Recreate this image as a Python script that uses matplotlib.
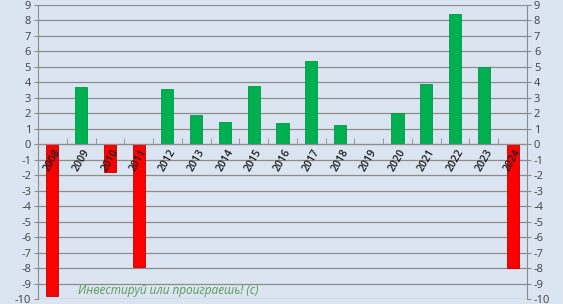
import matplotlib.pyplot as plt
import numpy as np

# Данные: годы и значения
years = ['2008', '2009', '2010', '2011', '2012', '2013', '2014', '2015', '2016',
         '2017', '2018', '2019', '2020', '2021', '2022', '2023', '2024']
values = [-9.8, 3.7, -1.8, -7.9, 3.55, 1.9, 1.45, 3.75, 1.4,
          5.4, 1.25, 0.0, 2.0, 3.9, 8.4, 5.0, -8.0]
yticks = list(range(-10, 10))

plt.rcParams['font.family'] = ['Open Sans', 'DejaVu Sans']

fig = plt.figure(figsize=(5.63, 3.04), dpi=100)
fig.patch.set_facecolor('#dbe5f1')
ax = fig.add_axes([0.0675, 0.0164, 0.8685, 0.9672])
ax.set_facecolor('#dbe5f1')

# сетка вручную, чтобы подписи оси X были поверх столбиков
for t in yticks:
    ax.axhline(t, color='#8c8c8c', linewidth=0.9, zorder=0.5)

x = np.arange(len(years))
colors = ['#00b050' if v >= 0 else '#ff0000' for v in values]
edges = ['#009a44' if v >= 0 else '#c00000' for v in values]
ax.bar(x, values, width=0.42, color=colors, edgecolor=edges, linewidth=0.6, zorder=1)

ax.set_xlim(-0.5, len(years) - 0.5)
ax.set_ylim(-10, 9)
ax.set_yticks(yticks)
ax.set_yticklabels([str(t) for t in yticks], fontsize=8, color='#404040')
ax.tick_params(axis='y', which='both', left=True, right=True, labelleft=True,
               labelright=True, length=3, color='#8c8c8c', pad=2)

# ось X проходит через ноль
ax.spines['bottom'].set_position(('data', 0))
ax.spines['bottom'].set_color('#8c8c8c')
ax.spines['top'].set_visible(False)
ax.spines['left'].set_color('#8c8c8c')
ax.spines['right'].set_color('#8c8c8c')

ax.set_xticks(x)
ax.set_xticklabels(years, rotation=60, fontsize=7.5, fontweight='semibold',
                   ha='center', va='top', color='#1a1a1a')
ax.tick_params(axis='x', which='major', length=0, pad=2)
ax.set_xticks(np.arange(len(years) + 1) - 0.5, minor=True)
ax.tick_params(axis='x', which='minor', length=4, direction='in', color='#8c8c8c')

ax.text(0.082, 0.008, 'Инвестируй или проиграешь! (с)', transform=ax.transAxes,
        fontsize=8.5, fontstyle='italic', color='#5a9a5a', ha='left', va='bottom')

plt.savefig('out.png', dpi=100, facecolor=fig.get_facecolor())
